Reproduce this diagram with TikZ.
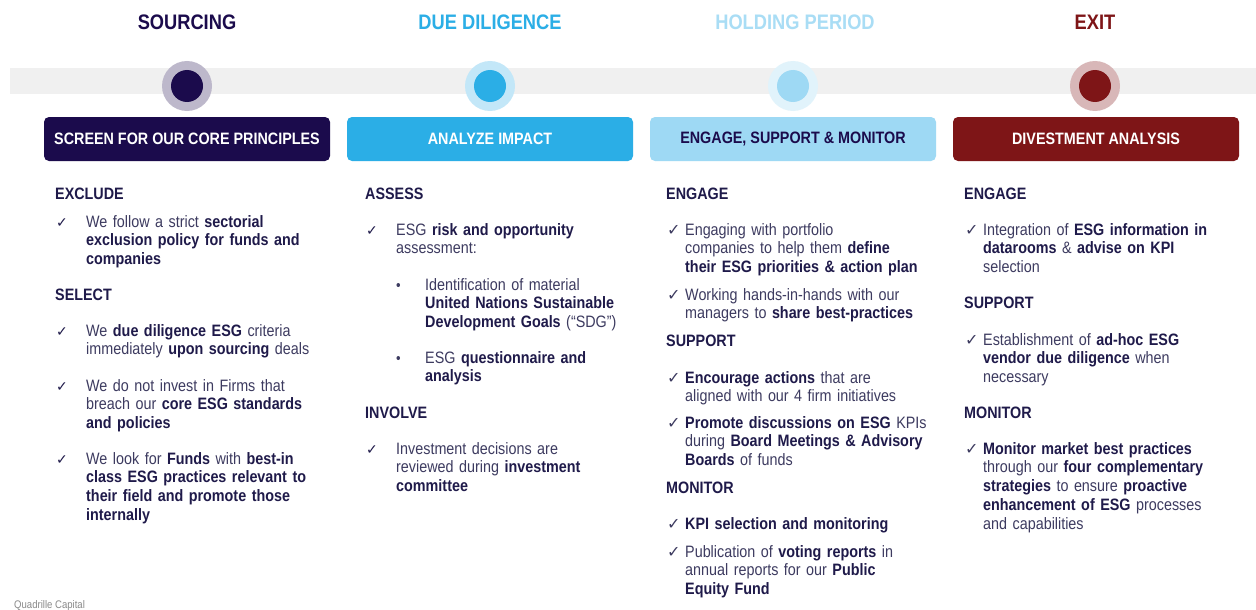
\documentclass[tikz,border=0pt]{standalone}
\usepackage{fontspec}
\setmainfont{Liberation Sans}[FakeStretch=0.87]
\newfontfamily\symf{DejaVu Sans}
\definecolor{navy}{HTML}{1B0B4C}
\definecolor{dblue}{HTML}{2BAEE6}
\definecolor{lblue}{HTML}{9ED9F4}
\definecolor{lbluet}{HTML}{A9DDF5}
\definecolor{dred}{HTML}{7E1517}
\definecolor{ringnavy}{HTML}{BDB8CB}
\definecolor{ringblue}{HTML}{C3E7F8}
\definecolor{ringlblue}{HTML}{E1F3FB}
\definecolor{ringred}{HTML}{D8B7B8}
\definecolor{band}{HTML}{F0F0F0}
\definecolor{bodytxt}{HTML}{3D3B60}
\definecolor{boldtxt}{HTML}{1F1A4A}
\definecolor{foottxt}{HTML}{8A8A8A}
\newcommand\hb[1]{\textbf{\color{boldtxt}#1}}
\begin{document}
\begin{tikzpicture}[x=1pt,y=-1pt,
 title/.style={font=\fontsize{21}{24}\selectfont\bfseries, anchor=center, inner sep=0pt},
 ring/.style={circle, inner sep=0pt, minimum size=50pt},
 core/.style={circle, inner sep=0pt, minimum size=32pt},
 phasebox/.style={rounded corners=5pt, minimum width=286pt, minimum height=44pt, font=\fontsize{16.5}{19}\selectfont\bfseries, inner sep=0pt},
 sechead/.style={anchor=base west, inner sep=0pt, font=\fontsize{16.5}{19}\selectfont\bfseries, text=boldtxt},
 item/.style={anchor=base west, inner sep=0pt, align=left, text width=300pt, font=\fontsize{16.5}{18.8}\selectfont, text=bodytxt},
 tick/.style={anchor=base west, inner sep=0pt, font=\symf\fontsize{14}{14}\selectfont, text=boldtxt},
 bigtick/.style={anchor=base west, inner sep=0pt, font=\symf\fontsize{16}{16}\selectfont, text=bodytxt},
 dot/.style={anchor=base west, inner sep=0pt, font=\fontsize{15}{15}\selectfont, text=bodytxt},
]
\useasboundingbox (0,0) rectangle (1256,610);
\fill[white] (0,0) rectangle (1256,610);
% timeline band
\fill[band] (10,68) rectangle (1256,94);
% titles
\node[title, text=navy] (t1) at (187,22) {SOURCING};
\node[title, text=dblue] (t2) at (490,22) {DUE DILIGENCE};
\node[title, text=lbluet] (t3) at (795,22) {HOLDING PERIOD};
\node[title, text=dred] (t4) at (1095,22) {EXIT};
% circles
\node[ring, fill=ringnavy] (r1) at (187,86) {};
\node[core, fill=navy] (c1) at (r1) {};
\node[ring, fill=ringblue] (r2) at (490,86) {};
\node[core, fill=dblue] (c2) at (r2) {};
\node[ring, fill=ringlblue] (r3) at (793,86) {};
\node[core, fill=lblue] (c3) at (r3) {};
\node[ring, fill=ringred] (r4) at (1095,86) {};
\node[core, fill=dred] (c4) at (r4) {};
% boxes
\node[phasebox, fill=navy, text=white] (b1) at (187,139) {SCREEN FOR OUR CORE PRINCIPLES};
\node[phasebox, fill=dblue, text=white] (b2) at (490,139) {ANALYZE IMPACT};
\node[phasebox, fill=lblue, text=navy] (b3) at (793,139) {ENGAGE, SUPPORT \& MONITOR};
\node[phasebox, fill=dred, text=white] (b4) at (1096,139) {DIVESTMENT ANALYSIS};
% column 1
\node[sechead] (h11) at (55,199) {EXCLUDE};
\node[tick] (k11) at (56,227) {✓};
\node[item] (i11) at (86,227) {We follow a strict \hb{sectorial}\\ \hb{exclusion policy for funds and}\\ \hb{companies}};
\node[sechead] (h12) at (55,300) {SELECT};
\node[tick] (k12) at (56,336) {✓};
\node[item] (i12) at (86,336) {We \hb{due diligence ESG} criteria\\ immediately \hb{upon sourcing} deals};
\node[tick] (k13) at (56,391) {✓};
\node[item] (i13) at (86,391) {We do not invest in Firms that\\ breach our \hb{core ESG standards}\\ \hb{and policies}};
\node[tick] (k14) at (56,464) {✓};
\node[item] (i14) at (86,464) {We look for \hb{Funds} with \hb{best-in}\\ \hb{class ESG practices relevant to}\\ \hb{their field and promote those}\\ \hb{internally}};
% column 2
\node[sechead] (h21) at (365,199) {ASSESS};
\node[tick] (k21) at (366,235) {✓};
\node[item] (i21) at (396,235) {ESG \hb{risk and opportunity}\\ assessment:};
\node[dot] (d21) at (396,290) {•};
\node[item] (j21) at (425,290) {Identification of material\\ \hb{United Nations Sustainable}\\ \hb{Development Goals} (“SDG”)};
\node[dot] (d22) at (396,363) {•};
\node[item] (j22) at (425,363) {ESG \hb{questionnaire and}\\ \hb{analysis}};
\node[sechead] (h22) at (365,418) {INVOLVE};
\node[tick] (k22) at (366,454) {✓};
\node[item] (i22) at (396,454) {Investment decisions are\\ reviewed during \hb{investment}\\ \hb{committee}};
% column 3
\node[sechead] (h31) at (666,199) {ENGAGE};
\node[bigtick] (k31) at (667,235) {✓};
\node[item] (i31) at (685,235) {Engaging with portfolio\\ companies to help them \hb{define}\\ \hb{their ESG priorities \& action plan}};
\node[bigtick] (k32) at (667,300) {✓};
\node[item] (i32) at (685,300) {Working hands-in-hands with our\\ managers to \hb{share best-practices}};
\node[sechead] (h32) at (666,346) {SUPPORT};
\node[bigtick] (k33) at (667,383) {✓};
\node[item] (i33) at (685,383) {\hb{Encourage actions} that are\\ aligned with our 4 firm initiatives};
\node[bigtick] (k34) at (667,428) {✓};
\node[item] (i34) at (685,428) {\hb{Promote discussions on ESG} KPIs\\ during \hb{Board Meetings \& Advisory}\\ \hb{Boards} of funds};
\node[sechead] (h33) at (666,493) {MONITOR};
\node[bigtick] (k35) at (667,529) {✓};
\node[item] (i35) at (685,529) {\hb{KPI selection and monitoring}};
\node[bigtick] (k36) at (667,557) {✓};
\node[item] (i36) at (685,557) {Publication of \hb{voting reports} in\\ annual reports for our \hb{Public}\\ \hb{Equity Fund}};
% column 4
\node[sechead] (h41) at (964,199) {ENGAGE};
\node[bigtick] (k41) at (965,235) {✓};
\node[item] (i41) at (983,235) {Integration of \hb{ESG information in}\\ \hb{datarooms} \& \hb{advise on KPI}\\ selection};
\node[sechead] (h42) at (964,308) {SUPPORT};
\node[bigtick] (k42) at (965,345) {✓};
\node[item] (i42) at (983,345) {Establishment of \hb{ad-hoc ESG}\\ \hb{vendor due diligence} when\\ necessary};
\node[sechead] (h43) at (964,418) {MONITOR};
\node[bigtick] (k43) at (965,454) {✓};
\node[item] (i43) at (983,454) {\hb{Monitor market best practices}\\ through our \hb{four complementary}\\ \hb{strategies} to ensure \hb{proactive}\\ \hb{enhancement of ESG} processes\\ and capabilities};
% footer
\node[anchor=base west, inner sep=0pt, font=\fontsize{11}{12}\selectfont, text=foottxt] (foot) at (14,608) {Quadrille Capital};
\end{tikzpicture}
\end{document}
